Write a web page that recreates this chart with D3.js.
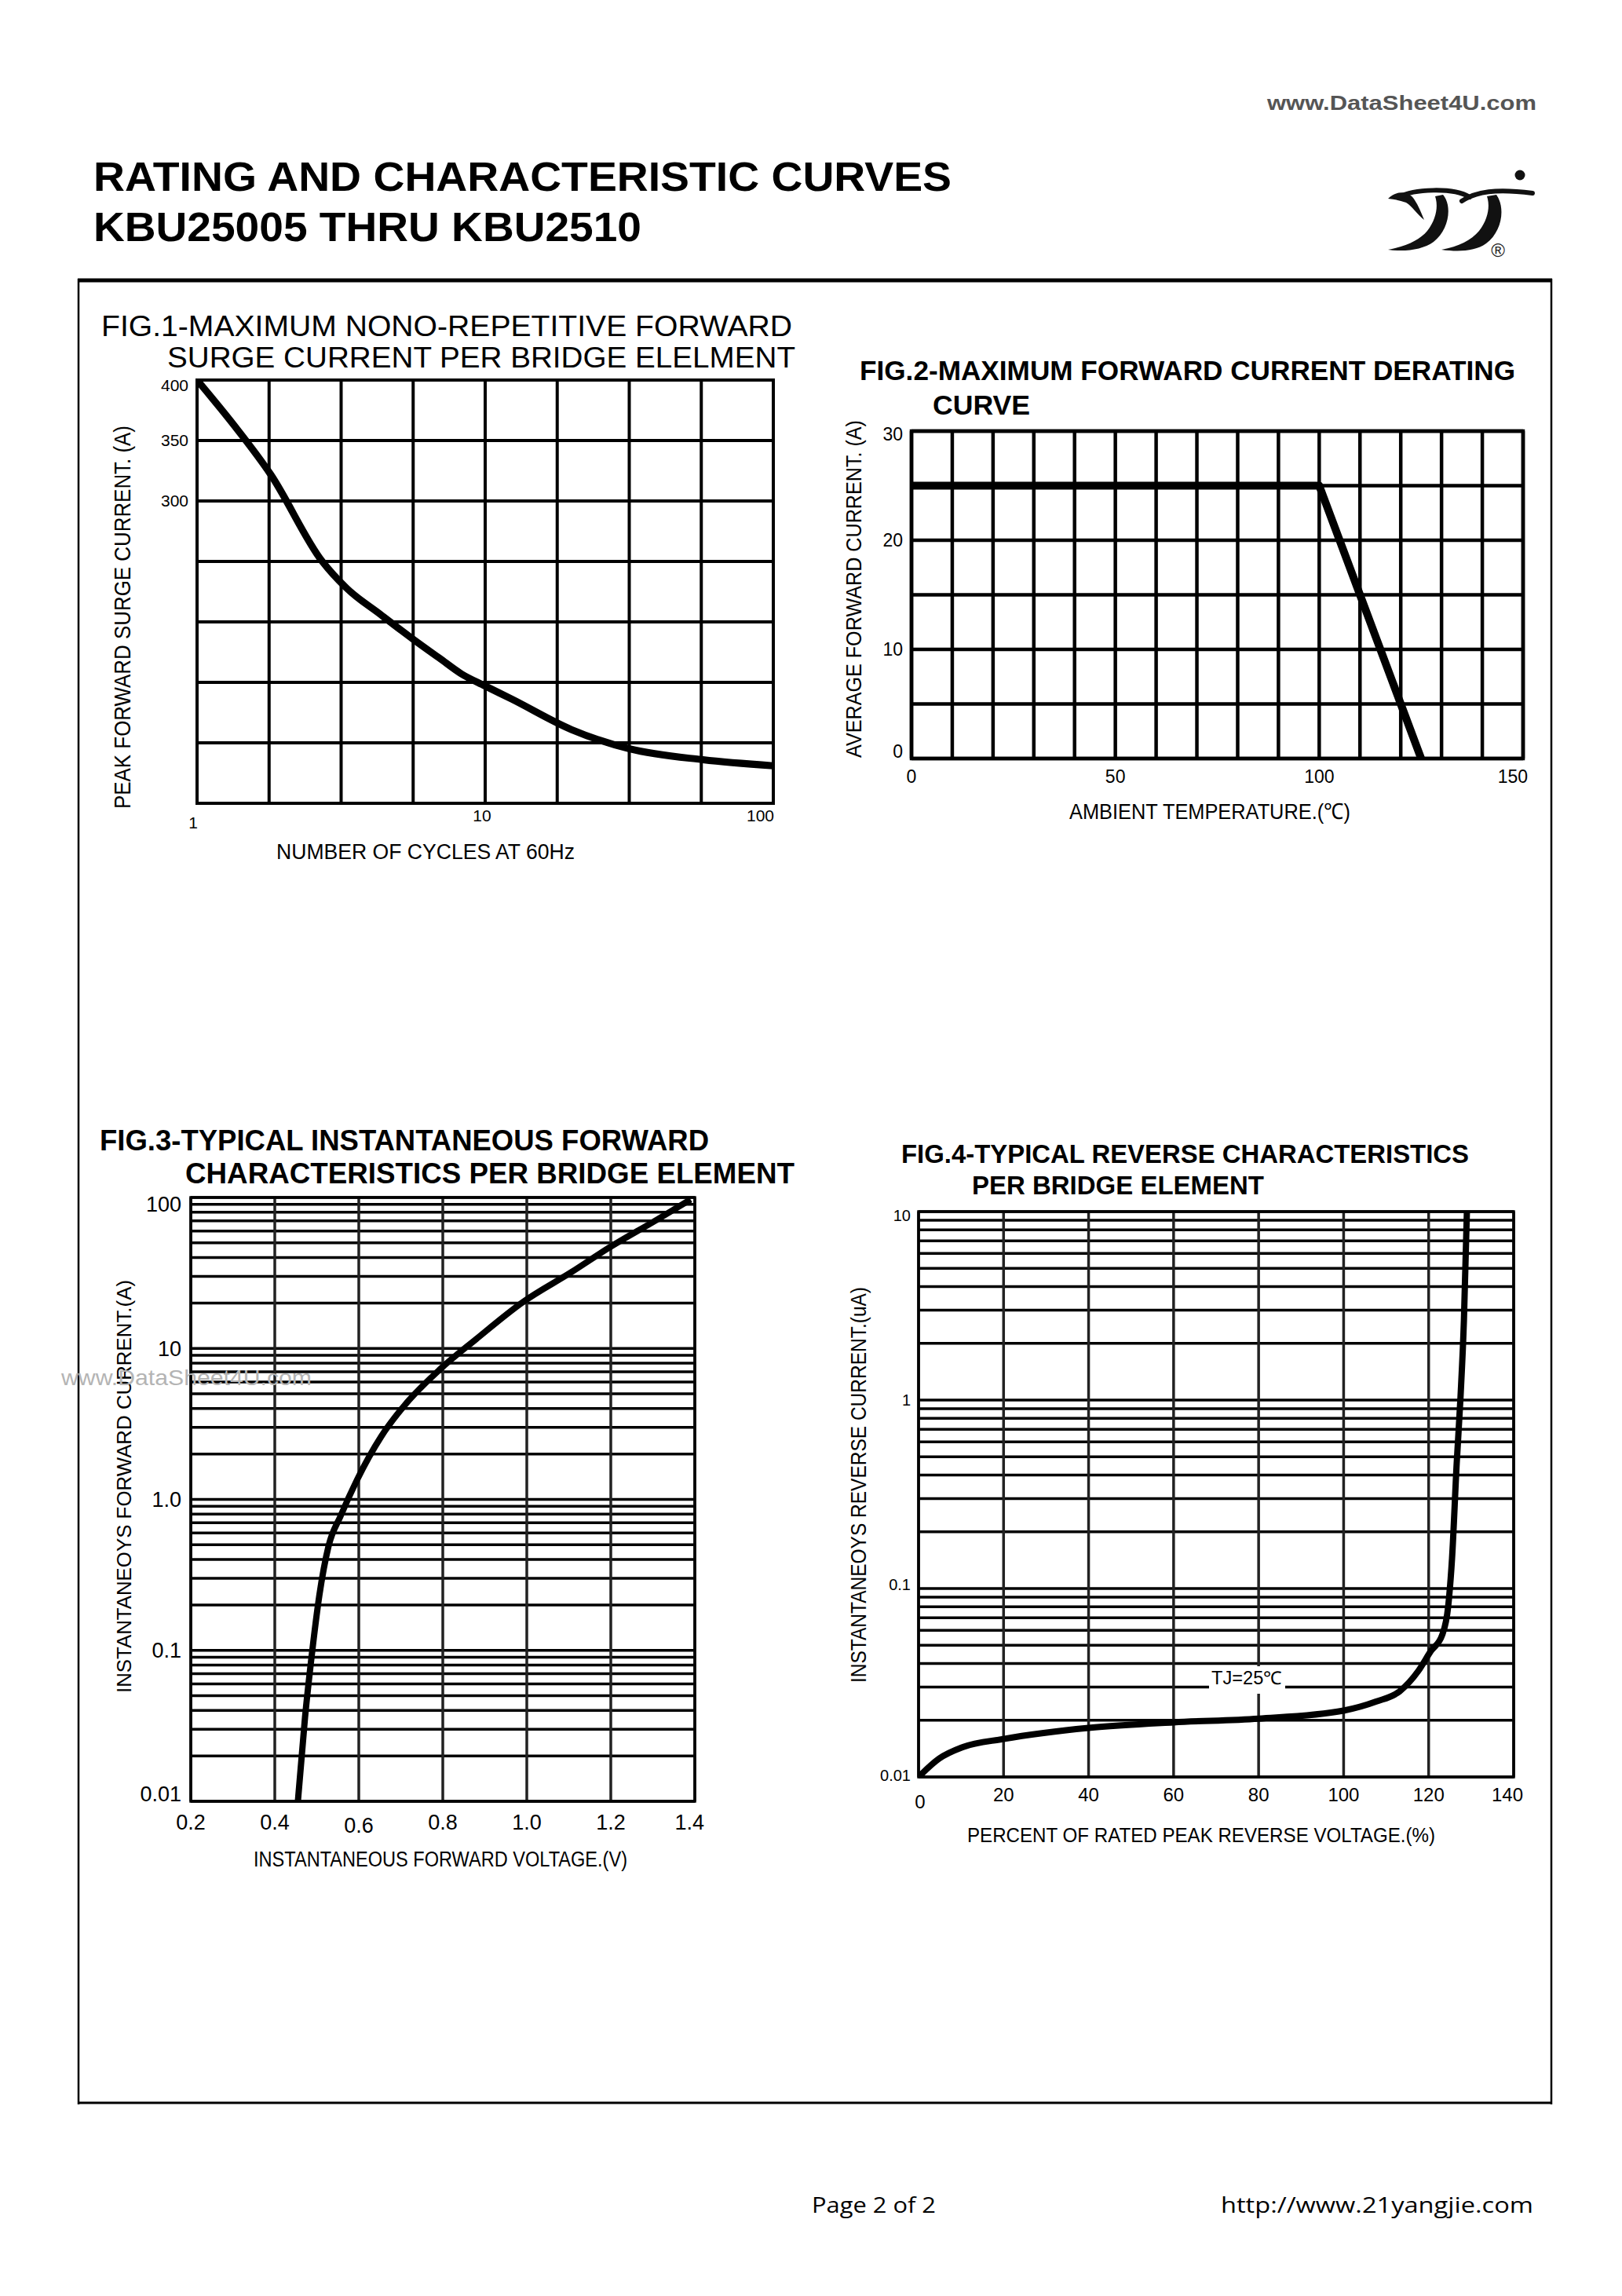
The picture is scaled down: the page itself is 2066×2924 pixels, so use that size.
<!DOCTYPE html>
<html>
<head>
<meta charset="utf-8">
<script src="https://cdn.jsdelivr.net/npm/d3@7"></script>
<style>
  html, body { margin: 0; padding: 0; background: #fff; }
  svg { display: block; }
</style>
</head>
<body>
<script>
// ---------------- DATA ----------------
// Fig.1 - Maximum non-repetitive forward surge current
const fig1Cycles = [1, 1.35, 1.8, 2.72, 3.3, 4.34, 5.6, 6.94, 8.27, 10, 12.4, 19.9, 31.7, 57, 100];
const fig1Surge  = [400, 362, 322, 250, 228, 206, 186, 170, 157, 147, 136, 111, 95, 86, 81];
const fig1YTickVals = [400, 350, 300];
const fig1YTickLabels = ["400", "350", "300"];
const fig1XTickVals = [1, 10, 100];
const fig1XTickLabels = ["1", "10", "100"];

// Fig.2 - Maximum forward current derating curve
const fig2Temp    = [0, 100, 125];
const fig2Current = [25, 25, 0];
const fig2YTickVals = [0, 10, 20, 30];
const fig2YTickLabels = ["0", "10", "20", "30"];
const fig2XTickVals = [0, 50, 100, 150];
const fig2XTickLabels = ["0", "50", "100", "150"];

// Fig.3 - Typical instantaneous forward characteristics
const fig3Voltage = [0.455, 0.472, 0.489, 0.506, 0.528, 0.557, 0.596, 0.653, 0.709, 0.794, 0.879, 0.992, 1.106, 1.196, 1.309, 1.39];
const fig3Current = [0.01, 0.036, 0.098, 0.23, 0.49, 0.78, 1.35, 2.6, 4.2, 7.3, 11.5, 20.4, 32, 46.5, 71, 97];
const fig3YTickVals = [0.01, 0.1, 1, 10, 100];
const fig3YTickLabels = ["0.01", "0.1", "1.0", "10", "100"];
const fig3XTickVals = [0.2, 0.4, 0.6, 0.8, 1.0, 1.2, 1.4];
const fig3XTickLabels = ["0.2", "0.4", "0.6", "0.8", "1.0", "1.2", "1.4"];

// Fig.4 - Typical reverse characteristics
const fig4Percent = [0, 4.8, 10.4, 20, 40, 60, 80, 100, 107.6, 113.2, 117.6, 120.5, 123.2, 124.6, 125.5, 126.6, 127.5, 128.3, 129];
const fig4Current = [0.01, 0.0125, 0.0144, 0.0159, 0.0182, 0.0195, 0.0204, 0.0225, 0.0251, 0.0285, 0.0366, 0.0465, 0.0568, 0.0805, 0.144, 0.462, 1.04, 2.65, 10];
const fig4YTickVals = [0.01, 0.1, 1, 10];
const fig4YTickLabels = ["0.01", "0.1", "1", "10"];
const fig4XTickVals = [0, 20, 40, 60, 80, 100, 120, 140];
const fig4XTickLabels = ["0", "20", "40", "60", "80", "100", "120", "140"];

// ---------------- DRAWING ----------------
const W = 2066, H = 2924;
const SANS = "'Liberation Sans', Arial, Helvetica, sans-serif";
const NARROW = "'Liberation Sans Narrow', 'Arial Narrow', 'Liberation Sans', Arial, sans-serif";
const CAL = "'Open Sans', 'Noto Sans', 'DejaVu Sans', sans-serif";

const svg = d3.select("body").append("svg")
  .attr("width", W).attr("height", H).attr("viewBox", `0 0 ${W} ${H}`);
svg.append("rect").attr("width", W).attr("height", H).attr("fill", "#fff");
const defs = svg.append("defs");

function txt(parent, str, x, y, o = {}) {
  const t = parent.append("text").attr("x", x).attr("y", y).text(str)
    .attr("font-family", o.family || SANS)
    .attr("font-size", o.size || 20)
    .attr("font-weight", o.weight || "normal")
    .attr("fill", o.fill || "#000")
    .attr("text-anchor", o.anchor || "start");
  if (o.len) t.attr("textLength", o.len).attr("lengthAdjust", "spacingAndGlyphs");
  return t;
}
function txtRot(parent, str, bx, cy, o = {}) {
  const g = parent.append("g").attr("transform", `translate(${bx},${cy}) rotate(-90)`);
  return txt(g, str, 0, 0, Object.assign({ anchor: "middle" }, o));
}

// ---- Header ----
txt(svg, "www.DataSheet4U.com", 1614, 140, { size: 25, weight: "bold", family: NARROW, fill: "#555", len: 343 });
txt(svg, "RATING AND CHARACTERISTIC CURVES", 119, 243, { size: 51, weight: "bold", len: 1093 });
txt(svg, "KBU25005 THRU KBU2510", 119, 307, { size: 51, weight: "bold", len: 698 });

// Logo
const logo = svg.append("g").attr("fill", "#111");
logo.append("path").attr("d", "M1768,253 C1778,243 1792,243 1800,252 C1806,260 1810,270 1814,280 C1805,273 1799,263 1791,258 C1783,255 1776,254 1768,253 Z");
logo.append("path").attr("d", "M1782,251 C1800,241 1850,238 1872,251").attr("fill", "none").attr("stroke", "#111").attr("stroke-width", 6).attr("stroke-linecap", "round");
logo.append("path").attr("d", "M1838,248 C1850,262 1846,292 1826,308 C1812,318 1790,321 1768,318 C1790,314 1808,306 1818,294 C1830,278 1832,262 1828,250 Z");
logo.append("path").attr("d", "M1862,256 C1880,244 1905,240 1952,246").attr("fill", "none").attr("stroke", "#111").attr("stroke-width", 6).attr("stroke-linecap", "round");
logo.append("path").attr("d", "M1906,248 C1918,265 1913,295 1893,310 C1879,320 1858,321 1836,318 C1858,314 1874,306 1884,294 C1896,278 1898,262 1894,250 Z");
logo.append("circle").attr("cx", 1936).attr("cy", 223).attr("r", 6.5);
txt(svg, "®", 1908, 327, { size: 24, anchor: "middle", fill: "#222" });

// Outer box
svg.append("line").attr("x1", 99).attr("x2", 1977).attr("y1", 357).attr("y2", 357).attr("stroke", "#000").attr("stroke-width", 5);
svg.append("line").attr("x1", 99).attr("x2", 1977).attr("y1", 2678).attr("y2", 2678).attr("stroke", "#000").attr("stroke-width", 3);
svg.append("line").attr("x1", 100).attr("x2", 100).attr("y1", 355).attr("y2", 2680).attr("stroke", "#000").attr("stroke-width", 2.5);
svg.append("line").attr("x1", 1976).attr("x2", 1976).attr("y1", 355).attr("y2", 2680).attr("stroke", "#000").attr("stroke-width", 2.5);

// Footer
txt(svg, "Page 2 of 2", 1034, 2818, { size: 27, family: CAL, len: 158 });
txt(svg, "http://www.21yangjie.com", 1555, 2818, { size: 27, family: CAL, len: 398 });

// Generic plot helper
let clipId = 0;
function plot(cfg) {
  const g = svg.append("g");
  const [x0, x1] = cfg.x.range();
  const [yb, yt] = cfg.y.range();
  g.selectAll(null).data(cfg.gridY).join("line")
    .attr("x1", x0).attr("x2", x1)
    .attr("y1", d => cfg.y(d)).attr("y2", d => cfg.y(d))
    .attr("stroke", cfg.hColor || "#000").attr("stroke-width", cfg.gw);
  g.selectAll(null).data(cfg.gridX).join("line")
    .attr("y1", yt).attr("y2", yb)
    .attr("x1", d => cfg.x(d)).attr("x2", d => cfg.x(d))
    .attr("stroke", cfg.vColor || "#000").attr("stroke-width", cfg.gw);
  g.append("rect").attr("x", x0).attr("y", yt).attr("width", x1 - x0).attr("height", yb - yt)
    .attr("fill", "none").attr("stroke", "#000").attr("stroke-width", cfg.fw || cfg.gw);
  const id = "clip" + (clipId++);
  defs.append("clipPath").attr("id", id).append("rect")
    .attr("x", x0).attr("y", yt).attr("width", x1 - x0).attr("height", yb - yt);
  const pts = cfg.xs.map((v, i) => [v, cfg.ys[i]]);
  const line = d3.line().x(d => cfg.x(d[0])).y(d => cfg.y(d[1])).curve(cfg.curve || d3.curveMonotoneX);
  g.append("path").attr("d", line(pts)).attr("clip-path", `url(#${id})`)
    .attr("fill", "none").attr("stroke", "#000").attr("stroke-width", cfg.cw)
    .attr("stroke-linejoin", "round");
  return g;
}

// ---- FIG 1 ----
{
  const x = d3.scaleLog().domain([1, 100]).range([251, 985]);
  const y = d3.scaleLinear().domain([50, 400]).range([1023, 484]);
  plot({ x, y, gridX: d3.range(0, 9).map(k => Math.pow(10, k / 4)), gridY: d3.range(50, 401, 50),
         gw: 4, cw: 9, xs: fig1Cycles, ys: fig1Surge });
  txt(svg, "FIG.1-MAXIMUM NONO-REPETITIVE FORWARD", 129, 428, { size: 37, len: 880 });
  txt(svg, "SURGE CURRENT PER BRIDGE ELELMENT", 213, 468, { size: 37, len: 800 });
  fig1YTickVals.forEach((v, i) => {
    const c = Math.max(y(v), 491);
    txt(svg, fig1YTickLabels[i], 240, c + 7, { size: 21, anchor: "end" });
  });
  fig1XTickVals.forEach((v, i) => {
    const last = i === fig1XTickVals.length - 1;
    txt(svg, fig1XTickLabels[i], last ? 986 : (i === 0 ? 246 : x(v) - 4), i === 0 ? 1055 : 1046, { size: 21, anchor: last ? "end" : "middle" });
  });
  txt(svg, "NUMBER OF CYCLES AT 60Hz", 352, 1094, { size: 27, family: NARROW, len: 380 });
  txtRot(svg, "PEAK FORWARD SURGE CURRENT. (A)", 166, 786, { size: 30, family: NARROW, len: 488 });
}

// ---- FIG 2 ----
{
  const x = d3.scaleLinear().domain([0, 150]).range([1161, 1940]);
  const y = d3.scaleLinear().domain([0, 30]).range([966, 549]);
  plot({ x, y, gridX: d3.range(0, 151, 10), gridY: d3.range(0, 31, 5),
         gw: 4.5, cw: 10, xs: fig2Temp, ys: fig2Current, curve: d3.curveLinear });
  txt(svg, "FIG.2-MAXIMUM FORWARD CURRENT  DERATING", 1095, 484, { size: 35, weight: "bold", family: NARROW, len: 835 });
  txt(svg, "CURVE", 1188, 528, { size: 35, weight: "bold", family: NARROW, len: 124 });
  fig2YTickVals.forEach((v, i) => {
    const c = Math.min(Math.max(y(v), 553), 957);
    txt(svg, fig2YTickLabels[i], 1150, c + 8, { size: 23, anchor: "end" });
  });
  fig2XTickVals.forEach((v, i) => {
    const last = i === fig2XTickVals.length - 1;
    txt(svg, fig2XTickLabels[i], last ? 1946 : x(v), 997, { size: 23, anchor: last ? "end" : "middle" });
  });
  txt(svg, "AMBIENT TEMPERATURE.(\u2103)", 1362, 1043, { size: 28, family: NARROW, len: 358 });
  txtRot(svg, "AVERAGE FORWARD CURRENT. (A)", 1097, 750, { size: 27, family: NARROW, len: 430 });
}

// ---- FIG 3 ----
{
  const x = d3.scaleLinear().domain([0.2, 1.4]).range([243, 885]);
  const y = d3.scaleLog().domain([0.01, 100]).range([2294, 1525]);
  const gridY = [];
  [0.01, 0.1, 1, 10].forEach(d => d3.range(1, 10).forEach(m => gridY.push(d * m)));
  gridY.push(100);
  plot({ x, y, gridX: fig3XTickVals, gridY, gw: 3.5, vColor: "#222", cw: 8, xs: fig3Voltage, ys: fig3Current });
  txt(svg, "FIG.3-TYPICAL INSTANTANEOUS FORWARD", 127, 1465, { size: 36, weight: "bold", len: 776 });
  txt(svg, "CHARACTERISTICS PER BRIDGE ELEMENT", 236, 1507, { size: 36, weight: "bold", len: 776 });
  fig3YTickVals.forEach((v, i) => {
    const c = Math.min(Math.max(y(v), 1533), 2284);
    txt(svg, fig3YTickLabels[i], 231, c + 9.5, { size: 27, anchor: "end" });
  });
  fig3XTickVals.forEach((v, i) => {
    const last = i === fig3XTickVals.length - 1;
    const dy = fig3XTickLabels[i] === "0.6" ? 4 : 0;
    txt(svg, fig3XTickLabels[i], last ? 897 : x(v), 2330 + dy, { size: 27, anchor: last ? "end" : "middle" });
  });
  txt(svg, "INSTANTANEOUS FORWARD VOLTAGE.(V)", 323, 2377, { size: 27, family: NARROW, len: 476 });
  txtRot(svg, "INSTANTANEOYS FORWARD CURRENT.(A)", 167, 1893, { size: 25, family: NARROW, len: 526 });
  txt(svg, "www.DataSheet4U.com", 78, 1764, { size: 28, fill: "#b4b4b4", len: 319 });
}

// ---- FIG 4 ----
{
  const x = d3.scaleLinear().domain([0, 140]).range([1170, 1928]);
  const y = d3.scaleLog().domain([0.01, 10]).range([2263, 1543]);
  const gridY = [];
  [0.01, 0.1, 1].forEach(d => d3.range(1, 10).forEach(m => gridY.push(d * m)));
  gridY.push(10);
  plot({ x, y, gridX: fig4XTickVals, gridY, gw: 3.5, vColor: "#222", cw: 8, xs: fig4Percent, ys: fig4Current });
  svg.append("rect").attr("x", 1540).attr("y", 2122).attr("width", 97).attr("height", 35).attr("fill", "#fff");
  txt(svg, "TJ=25\u2103", 1543, 2145, { size: 23, family: NARROW, len: 90 });
  txt(svg, "FIG.4-TYPICAL REVERSE CHARACTERISTICS", 1148, 1481, { size: 33, weight: "bold", len: 723 });
  txt(svg, "PER BRIDGE ELEMENT", 1238, 1521, { size: 33, weight: "bold", len: 372 });
  const yOff = [-2, -5, 0, 5];
  fig4YTickVals.forEach((v, i) => {
    txt(svg, fig4YTickLabels[i], 1160, y(v) + yOff[i] + 7, { size: 20, anchor: "end" });
  });
  fig4XTickVals.forEach((v, i) => {
    const last = i === fig4XTickVals.length - 1;
    const first = i === 0;
    txt(svg, fig4XTickLabels[i], last ? 1940 : (first ? 1172 : x(v)), first ? 2303 : 2294,
        { size: 24, family: NARROW, anchor: last ? "end" : "middle" });
  });
  txt(svg, "PERCENT OF RATED PEAK REVERSE VOLTAGE.(%)", 1232, 2346, { size: 25, family: NARROW, len: 596 });
  txtRot(svg, "INSTANTANEOYS REVERSE CURRENT.(uA)", 1103, 1891, { size: 27, family: NARROW, len: 504 });
}
</script>
</body>
</html>
